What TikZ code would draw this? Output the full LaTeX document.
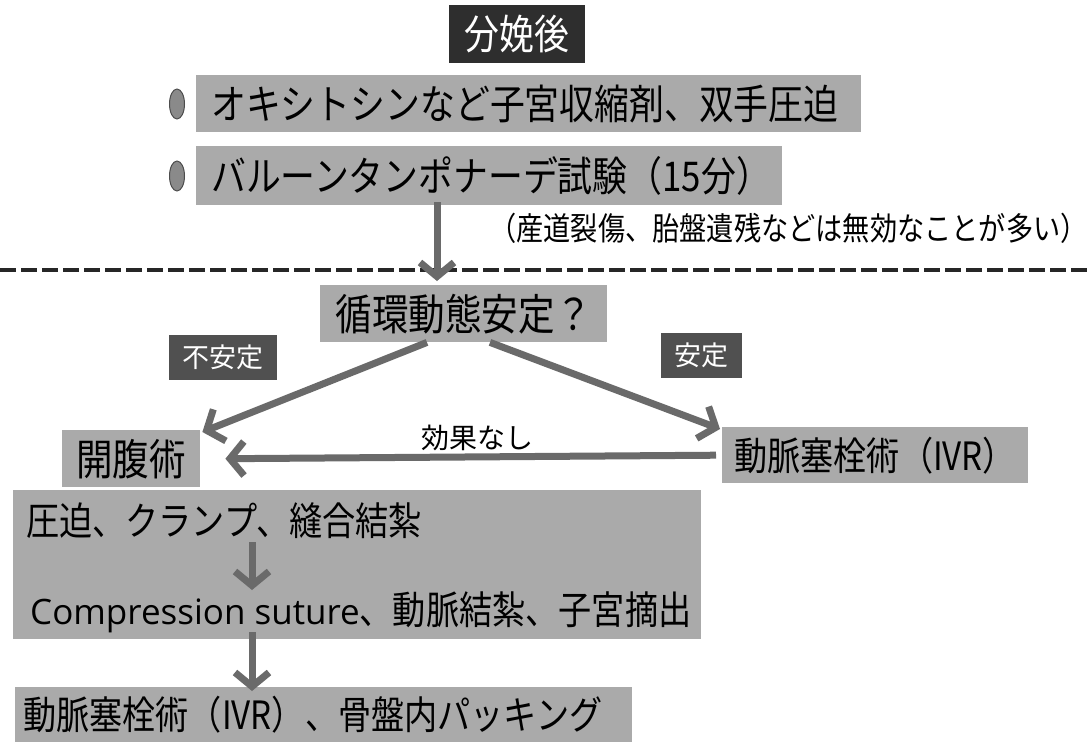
\documentclass[tikz,border=0pt]{standalone}
\usepackage{fontspec}
\setmainfont{Noto Sans CJK JP}
\newfontfamily\jpn{Noto Sans CJK JP}[FakeStretch=0.85]
\newfontfamily\latn{Open Sans}
\usetikzlibrary{arrows.meta,shapes.geometric}
\definecolor{boxgray}{HTML}{AAAAAA}
\definecolor{darkbox}{HTML}{2E2E2E}
\definecolor{labelbox}{HTML}{505050}
\definecolor{arrowgray}{HTML}{6A6A6A}
\definecolor{bulletgray}{HTML}{8A8A8A}
\newcommand{\fs}[1]{\fontsize{#1}{#1}\selectfont}
\newcommand{\js}[1]{\jpn\fontsize{#1}{#1}\selectfont}
\begin{document}
\begin{tikzpicture}[x=1pt,y=-1pt,
  gbox/.style={fill=boxgray, anchor=north west, inner ysep=0pt},
  lbox/.style={fill=boxgray, anchor=north west, inner ysep=0pt, align=left},
  darklabel/.style={fill=labelbox, text=white, anchor=north west, inner sep=0pt, font=\fs{27}},
  bulletdot/.style={ellipse, draw=black!70, line width=1pt, fill=bulletgray, minimum width=15pt, minimum height=30pt, inner sep=0pt},
  arr/.style={draw=arrowgray, line width=7pt, -{Straight Barb[length=14pt,width=34pt]}},
]
\useasboundingbox (0,0) rectangle (1092,742);
\fill[white] (0,0) rectangle (1092,742);

% top section
\node[fill=darkbox, text=white, anchor=north west, minimum width=136pt, minimum height=58pt, inner sep=0pt, font=\js{41}] (top) at (449,5) {分娩後};

\node[bulletdot] (d1) at (177,104) {};
\node[bulletdot] (d2) at (177,176) {};

\node[lbox, text width=635pt, inner xsep=15pt, minimum height=57pt, font=\js{41}] (b1) at (196,75) {オキシトシンなど子宮収縮剤、双手圧迫};
\node[lbox, text width=556pt, inner xsep=15pt, minimum height=59pt, font=\js{41}] (b2) at (196,146) {バルーンタンポナーデ試験（15分）};

\node[anchor=west, inner sep=0pt, font=\js{32}] (note) at (489,228) {（産道裂傷、胎盤遺残などは無効なことが多い）};

% dashed separator
\draw[line width=4pt, dash pattern=on 16pt off 5pt, black!85] (0,270) -- (1092,270);

% decision
\node[gbox, minimum width=287pt, minimum height=57pt, inner xsep=0pt, font=\js{43}] (circ) at (320,285) {循環動態安定？};

\node[darklabel, minimum width=108pt, minimum height=45pt] (unst) at (169,335) {不安定};
\node[darklabel, minimum width=81pt, minimum height=45pt] (st) at (661,333) {安定};

\node[gbox, minimum width=138pt, minimum height=57pt, inner xsep=0pt, font=\js{43}] (lap) at (62,430) {開腹術};
\node[gbox, minimum width=306pt, minimum height=56pt, inner xsep=0pt, font=\js{39}] (ivr) at (722,427) {動脈塞栓術（IVR）};

\node[inner sep=0pt, font=\fs{28}] (noeff) at (477,438) {効果なし};

% lower boxes
\node[gbox, minimum width=688pt, minimum height=149pt, inner sep=0pt] (big) at (13,490) {};
\node[anchor=west, inner sep=0pt, font=\js{39}] (l1) at (26,521) {圧迫、クランプ、縫合結紮};
\node[anchor=west, inner sep=0pt, font=\js{39}] (l2) at (30,612) {{\latn\fontsize{35}{35}\selectfont Compression suture}、動脈結紮、子宮摘出};

\node[lbox, text width=601pt, inner xsep=8pt, minimum height=55pt, font=\js{39}] (bot) at (15,687) {動脈塞栓術（IVR）、骨盤内パッキング};

% helper coordinates
\coordinate (ax) at (437,0);
\coordinate (lx) at (427,0);
\coordinate (rx) at (490,0);
\coordinate (i1) at (252,542);
\coordinate (i2) at (252,590);
\coordinate (j1) at (252,632);

% connectors
\draw[arr] ([yshift=3pt]b2.south -| ax) -- ([yshift=4pt]circ.north -| ax);
\draw[arr] (circ.south -| lx) -- ([xshift=2pt,yshift=-2pt]lap.north east);
\draw[arr] (circ.south -| rx) -- ([xshift=-2pt,yshift=-2pt]ivr.north west);
\draw[arr] ([xshift=-6pt]ivr.west) -- ([xshift=25pt]lap.east);
\draw[arr] (i1) -- (i2);
\draw[arr] (j1) -- ([yshift=-4pt]bot.north -| j1);
\end{tikzpicture}
\end{document}
